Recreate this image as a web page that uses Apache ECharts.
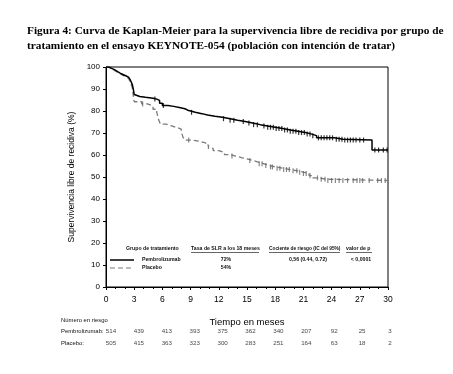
<!DOCTYPE html>
<html><head><meta charset="utf-8">
<script src="https://cdn.jsdelivr.net/npm/echarts@6/dist/echarts.min.js"></script>
<style>html,body{margin:0;padding:0;background:#fff}#c{width:453px;height:374px}</style>
</head><body><div id="c"></div>
<script>
const titleText = 'Figura 4: Curva de Kaplan-Meier para la supervivencia libre de recidiva por grupo de\ntratamiento en el ensayo KEYNOTE-054 (población con intención de tratar)';
// Kaplan-Meier step points [months, % free of recurrence]
const pembroTimes = [0,0.3,0.6,0.9,1.2,1.5,1.8,2.1,2.4,2.6,2.8,2.9,3.0,3.2,3.6,4.2,5.0,5.4,5.7,6.0,6.6,7.2,7.8,8.4,8.8,9.5,10.2,10.8,11.6,12.4,13.2,14.0,14.8,15.6,16.4,17.2,18.0,18.8,19.6,20.4,21.2,21.8,22.4,24.3,25.2,28.3,30];
const pembroSurv  = [100,99.4,98.8,98.0,97.2,96.6,96.0,95.4,94.8,94.0,92.0,90.0,87.5,86.6,86.2,85.8,85.4,84.8,83.5,82.5,82.1,81.6,81.0,80.2,79.4,78.8,78.2,77.6,77.2,76.5,75.8,75.2,74.5,73.8,73.2,72.6,72.0,71.4,70.8,70.2,69.6,68.8,67.8,67.2,66.8,62.3,62.3];
const placeboTimes = [0,0.3,0.6,0.9,1.2,1.5,1.8,2.1,2.4,2.6,2.8,2.9,3.0,3.8,4.4,5.0,5.4,5.6,5.8,6.4,7.0,7.6,8.0,8.2,8.4,9.2,10.0,10.6,10.9,11.4,12.0,12.6,13.2,13.8,14.4,15.0,15.6,16.2,16.8,17.4,18.0,18.8,19.6,20.4,21.0,21.6,22.0,22.6,23.4,30];
const placeboSurv  = [100,99.2,98.4,97.6,97.0,96.2,95.6,94.8,94.0,93.0,90.5,87.0,84.2,83.2,82.3,80.8,79.4,76.0,74.0,73.2,72.4,71.8,70.6,68.0,66.8,66.2,65.5,64.5,63.0,62.0,61.2,60.2,59.5,58.8,58.2,57.5,56.8,56.0,55.2,54.6,54.0,53.4,52.8,52.2,51.6,50.6,49.6,49.0,48.4,48.4];
const pembroCensor = [5.2,6.1,9.1,12.5,13.2,13.6,14.6,15.2,15.7,16.1,16.8,17.2,17.5,17.8,18.1,18.4,18.7,19.0,19.3,19.6,19.9,20.2,20.5,20.8,21.1,21.4,21.7,22.0,22.6,22.9,23.2,23.5,23.8,24.1,24.5,24.8,25.1,25.4,25.7,26.0,26.3,26.6,27.0,27.4,28.6,29.0,29.5,29.9];
const placeboCensor = [3.9,8.8,13.4,15.3,16.3,16.6,17.0,17.5,17.7,18.2,18.5,18.9,19.2,19.5,19.9,20.3,20.6,21.0,21.3,21.7,22.5,22.9,23.3,23.6,24.0,24.4,24.8,25.2,25.7,26.3,26.7,27.0,27.3,28.0,28.9,29.3,29.7];
const riskTimes = [0,3,6,9,12,15,18,21,24,27,30];
const riskPembro = [514,439,413,393,375,362,340,207,92,25,3];
const riskPlacebo = [505,415,363,323,300,283,251,164,63,18,2];
const groups = ['Pembrolizumab','Placebo'];
const rates18 = ['72%','54%'];
const hrText = '0,56 (0.44, 0.72)';
const pText = '< 0,0001';

function stepAt(times, surv, t){ let v = surv[0]; for (let i=0;i<times.length;i++){ if (times[i] <= t) v = surv[i]; } return v; }
const pembroLine = pembroTimes.map((t,i)=>[t,pembroSurv[i]]);
const placeboLine = placeboTimes.map((t,i)=>[t,placeboSurv[i]]);
const pembroCens = pembroCensor.map(t=>[t,stepAt(pembroTimes,pembroSurv,t)]);
const placeboCens = placeboCensor.map(t=>[t,stepAt(placeboTimes,placeboSurv,t)]);

const chart = echarts.init(document.getElementById('c'), null, {renderer:'canvas'});
const FS = 'Liberation Sans, Arial, sans-serif';
function lg(text, x, y, align, size){ return {type:'text', x:x, y:y, style:{text:text, align:align||'left', verticalAlign:'middle', fontFamily:FS, fontSize:size||5.2, fontWeight:'bold', fill:'#111'}}; }
function rl(text, x, y){ return {type:'text', x:x, y:y, style:{text:text, verticalAlign:'middle', fontFamily:FS, fontSize:5.9, fill:'#111'}}; }
chart.setOption({
  animation:false,
  backgroundColor:'#fff',
  title:{text:titleText, left:27, top:24, padding:0, textStyle:{fontFamily:'Liberation Serif, Times New Roman, serif', fontWeight:'bold', fontSize:11.3, lineHeight:15, color:'#000'}},
  grid:[
    {left:106, right:65, top:67, bottom:87, show:true, borderColor:'#000', borderWidth:1},
    {left:111, right:63, top:326, height:23}
  ],
  xAxis:[
    {type:'value', gridIndex:0, min:0, max:30, interval:3,
     name:'Tiempo en meses', nameLocation:'middle', nameGap:30,
     nameTextStyle:{fontFamily:FS, fontSize:9.5, color:'#000'},
     axisLine:{lineStyle:{color:'#000', width:1}},
     axisTick:{length:3, lineStyle:{color:'#000'}},
     minorTick:{show:true, splitNumber:3, length:2, lineStyle:{color:'#000'}},
     axisLabel:{fontFamily:FS, fontSize:8.5, color:'#000', margin:8},
     splitLine:{show:false}},
    {type:'value', gridIndex:1, min:0, max:30, show:false}
  ],
  yAxis:[
    {type:'value', gridIndex:0, min:0, max:100, interval:10,
     name:'Supervivencia libre de recidiva (%)', nameLocation:'middle', nameGap:30,
     nameTextStyle:{fontFamily:FS, fontSize:8.5, color:'#000'},
     axisLine:{show:true, lineStyle:{color:'#000', width:1}},
     axisTick:{show:true, length:3, lineStyle:{color:'#000'}},
     axisLabel:{fontFamily:FS, fontSize:8, color:'#000', margin:6},
     splitLine:{show:false}},
    {type:'category', gridIndex:1, data:groups, inverse:true, show:false}
  ],
  series:[
    {type:'line', name:'Placebo', xAxisIndex:0, yAxisIndex:0, step:'end', data:placeboLine, showSymbol:false, symbol:'none',
     lineStyle:{color:'#7a7a7a', width:1.3, type:[5,3]}, z:2},
    {type:'line', name:'Pembrolizumab', xAxisIndex:0, yAxisIndex:0, step:'end', data:pembroLine, showSymbol:false, symbol:'none',
     lineStyle:{color:'#000', width:1.5}, z:3},
    {type:'scatter', xAxisIndex:0, yAxisIndex:0, data:placeboCens, symbol:'rect', symbolSize:[1.2,5], itemStyle:{color:'#6a6a6a'}, z:2},
    {type:'scatter', xAxisIndex:0, yAxisIndex:0, data:pembroCens, symbol:'rect', symbolSize:[1.2,5], itemStyle:{color:'#000'}, z:3},
    {type:'scatter', xAxisIndex:1, yAxisIndex:1, symbolSize:0, data:riskTimes.map((t,i)=>[t,groups[0],riskPembro[i]]),
     label:{show:true, position:'inside', formatter:p=>String(p.value[2]), fontFamily:FS, fontSize:6.2, color:'#111'}},
    {type:'scatter', xAxisIndex:1, yAxisIndex:1, symbolSize:0, data:riskTimes.map((t,i)=>[t,groups[1],riskPlacebo[i]]),
     label:{show:true, position:'inside', formatter:p=>String(p.value[2]), fontFamily:FS, fontSize:6.2, color:'#111'}}
  ],
  graphic:[
    rl('Número en riesgo', 61, 320),
    rl(groups[0]+':', 61, 331.5),
    rl(groups[1]+':', 61, 343),
    lg('Grupo de tratamiento', 126, 249),
    {type:'line', shape:{x1:110,y1:260,x2:134,y2:260}, style:{stroke:'#000', lineWidth:1.5}},
    {type:'line', shape:{x1:110,y1:268,x2:134,y2:268}, style:{stroke:'#7a7a7a', lineWidth:1.2, lineDash:[5,3]}},
    lg(groups[0], 142, 260),
    lg(groups[1], 142, 268),
    lg('Tasa de SLR a los 18 meses', 191, 249),
    {type:'line', shape:{x1:191,y1:252.5,x2:259,y2:252.5}, style:{stroke:'#000', lineWidth:0.6}},
    lg(rates18[0], 226, 260, 'center'),
    lg(rates18[1], 226, 268, 'center'),
    lg('Cociente de riesgo (IC del 95%)', 269, 249, 'left', 4.8),
    {type:'line', shape:{x1:269,y1:252.5,x2:340,y2:252.5}, style:{stroke:'#000', lineWidth:0.6}},
    lg(hrText, 308, 260, 'center'),
    lg('valor de p', 346, 249),
    {type:'line', shape:{x1:346,y1:252.5,x2:372,y2:252.5}, style:{stroke:'#000', lineWidth:0.6}},
    lg(pText, 361, 260, 'center')
  ]
});
</script></body></html>
